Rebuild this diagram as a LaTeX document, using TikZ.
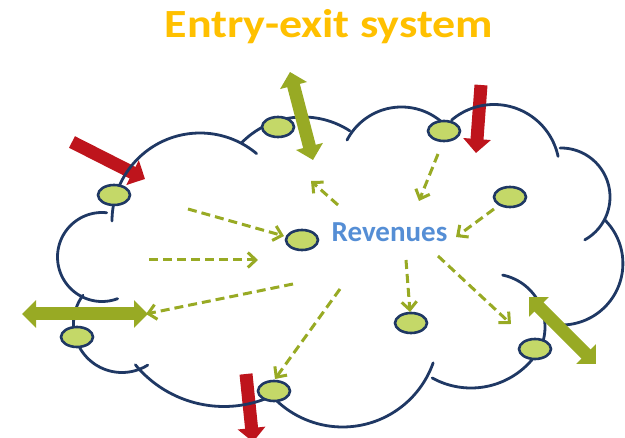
\documentclass[tikz,border=0pt]{standalone}
\usepackage{fontspec}
\usepackage{graphicx}
\setmainfont{Carlito}
\usetikzlibrary{arrows.meta,shapes.geometric}
\definecolor{navy}{RGB}{31,56,100}
\definecolor{limefill}{RGB}{196,216,104}
\definecolor{olivearrow}{RGB}{152,170,36}
\definecolor{redarrow}{RGB}{190,20,28}
\definecolor{titlecol}{RGB}{255,192,0}
\definecolor{revcol}{RGB}{85,142,213}
\newcommand\cloudlobe[5]{\draw[cloudline] plot[domain=#4:#5,samples=60,variable=\t]({#1+#3*cos(\t)},{#2+#3*sin(\t)});}
\begin{document}
\begin{tikzpicture}[x=1pt,y=-1pt,
  cloudline/.style={draw=navy,line width=2.8pt,line cap=round},
  spot/.style={ellipse,draw=navy,fill=limefill,line width=2.6pt,minimum width=32pt,minimum height=20pt,inner sep=0pt},
  dasharrow/.style={draw=olivearrow,line width=3pt,dash pattern=on 9pt off 5pt,-{Straight Barb[length=8pt,width=15pt]}},
  greenarrow/.style={draw=olivearrow,line width=13pt,{Triangle[length=14pt,width=27pt]}-{Triangle[length=14pt,width=27pt]}},
  redarrowstyle/.style={draw=redarrow,line width=13pt,-{Triangle[length=14pt,width=27pt]}}]
\useasboundingbox (0,0) rectangle (625,438);
\clip (0,0) rectangle (625,438);
% red arrows
\coordinate (r1s) at (72,142); \coordinate (r1e) at (145,179);
\coordinate (r2s) at (481,85); \coordinate (r2e) at (476,153);
\coordinate (r3s) at (246,374); \coordinate (r3e) at (253,442);
\draw[redarrowstyle] (r1s) -- (r1e);
\draw[redarrowstyle] (r2s) -- (r2e);
\draw[redarrowstyle] (r3s) -- (r3e);
% cloud lobes
\cloudlobe{200}{221}{88}{180}{310}
\cloudlobe{303}{203}{86}{225}{303}
\cloudlobe{401.5}{168.4}{61.4}{207.5}{315}
\cloudlobe{494}{170}{65.5}{229.6}{348}
\cloudlobe{561}{197}{49}{-91}{61}
\cloudlobe{561.4}{263.5}{61.5}{-45}{102}
\cloudlobe{492}{327}{53}{-78.4}{15}
\cloudlobe{471}{308}{80}{38}{119}
\cloudlobe{342.6}{331}{96}{19.4}{135}
\cloudlobe{224}{291.5}{115}{68}{140.4}
\cloudlobe{122}{324}{48.5}{58}{216.4}
\cloudlobe{102}{257}{44.5}{69.5}{276}
% points
\node[spot] (e1) at (114,195) {};
\node[spot] (e2) at (278,127) {};
\node[spot] (e3) at (302,240) {};
\node[spot] (e4) at (444,131) {};
\node[spot] (e5) at (510,197) {};
\node[spot] (e6) at (77,337) {};
\node[spot] (e7) at (411,323) {};
\node[spot] (e8) at (535,349) {};
\node[spot] (e9) at (274,391) {};
% green double arrows
\coordinate (gA1) at (290,72); \coordinate (gA2) at (313,160);
\coordinate (gB1) at (22,314); \coordinate (gB2) at (148,314);
\coordinate (gC1) at (529,297); \coordinate (gC2) at (596,364);
\draw[greenarrow] (gA1) -- (gA2);
\draw[greenarrow] (gB1) -- (gB2);
\draw[greenarrow] (gC1) -- (gC2);
% dashed arrows
\coordinate (d1s) at (188,209); \coordinate (d1e) at (284,236);
\coordinate (d2s) at (149,260); \coordinate (d2e) at (258,260);
\coordinate (d3s) at (293,284); \coordinate (d3e) at (146,314);
\coordinate (d4s) at (340,289); \coordinate (d4e) at (275,379);
\coordinate (d5s) at (406,260); \coordinate (d5e) at (410,312);
\coordinate (d6s) at (438,256); \coordinate (d6e) at (511,324);
\coordinate (d7s) at (494,209); \coordinate (d7e) at (456,237);
\coordinate (d8s) at (438,154); \coordinate (d8e) at (419,201);
\coordinate (d9s) at (338,205); \coordinate (d9e) at (311,181);
\foreach \i in {1,...,9}{\draw[dasharrow] (d\i s) -- (d\i e);}
% texts
\node[anchor=base,text=titlecol,font=\bfseries\fontsize{40}{48}\selectfont,inner sep=0pt] (title) at (329,37.3) {\scalebox{1.15}[1]{Entry-exit system}};
\node[anchor=base,text=revcol,font=\bfseries\fontsize{29}{34}\selectfont,inner sep=0pt] (rev) at (389.5,241.7) {Revenues};
\end{tikzpicture}
\end{document}
